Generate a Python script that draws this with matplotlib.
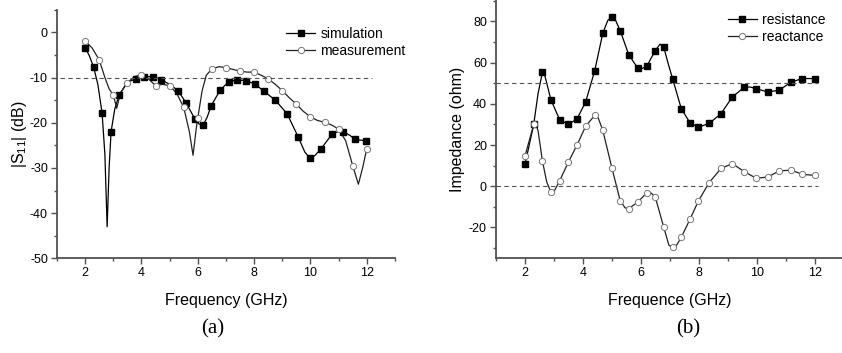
import numpy as np
import matplotlib
matplotlib.use('Agg')
import matplotlib.pyplot as plt
from matplotlib.ticker import MultipleLocator

plt.rcParams['font.family'] = ['Liberation Sans', 'DejaVu Sans']
plt.rcParams['axes.unicode_minus'] = False

# (a) |S11| -- markers
sim_f = [2.0, 2.3, 2.6, 2.92, 3.2, 3.8, 4.1, 4.4, 4.7, 5.3, 5.58, 5.9, 6.19, 6.47, 6.79,
         7.1, 7.4, 7.7, 8.02, 8.34, 8.75, 9.17, 9.56, 9.97, 10.38, 10.77, 11.17, 11.59, 11.98]
sim_db = [-3.4, -7.7, -17.8, -22.0, -13.9, -10.3, -9.8, -9.8, -10.5, -12.9, -15.6, -19.2, -20.5,
          -16.3, -12.8, -10.9, -10.5, -10.7, -11.4, -13.0, -15.0, -18.0, -23.1, -27.7, -25.7,
          -22.5, -22.0, -23.7, -24.0]
meas_f = [2.0, 2.5, 3.0, 3.5, 4.0, 4.5, 5.0, 5.5, 6.0, 6.5, 7.0, 7.5, 8.0, 8.5, 9.0, 9.5,
          10.0, 10.5, 11.0, 11.5, 12.0]
meas_db = [-1.9, -6.1, -13.9, -11.1, -9.4, -11.8, -11.8, -16.6, -18.9, -8.1, -7.8, -8.6, -8.8,
           -10.3, -12.9, -15.9, -18.7, -19.9, -21.4, -29.5, -25.7]

# (a) traced curves
sim_curve_f = [2.0, 2.15, 2.3, 2.45, 2.6, 2.7, 2.78, 2.85, 2.92, 3.05, 3.2, 3.5, 3.8, 4.1, 4.4,
               4.7, 5.0, 5.3, 5.58, 5.9, 6.05, 6.19, 6.33, 6.47, 6.79, 7.1, 7.4, 7.7, 8.02, 8.34,
               8.75, 9.17, 9.56, 9.8, 9.97, 10.15, 10.38, 10.77, 11.0, 11.17, 11.4, 11.59, 11.98]
sim_curve_db = [-3.4, -5.2, -7.7, -11.5, -17.8, -27.0, -43.0, -30.0, -22.0, -17.0, -13.9, -11.0,
                -10.3, -9.8, -9.8, -10.5, -11.5, -12.9, -15.6, -19.2, -20.3, -20.5, -18.8, -16.3,
                -12.8, -10.9, -10.5, -10.7, -11.4, -13.0, -15.0, -18.0, -23.1, -26.5, -27.7,
                -27.3, -25.7, -22.5, -21.9, -22.0, -22.8, -23.7, -24.0]
meas_curve_f = [2.0, 2.25, 2.5, 2.7, 2.85, 3.0, 3.12, 3.25, 3.5, 3.75, 4.0, 4.25, 4.5, 4.75,
                5.0, 5.25, 5.5, 5.7, 5.83, 5.95, 6.0, 6.15, 6.3, 6.5, 6.75, 7.0, 7.25, 7.5, 7.75,
                8.0, 8.25, 8.5, 8.75, 9.0, 9.25, 9.5, 9.75, 10.0, 10.25, 10.5, 10.75, 11.0,
                11.25, 11.5, 11.7, 11.85, 12.0]
meas_curve_db = [-1.9, -3.5, -6.1, -10.0, -12.5, -13.9, -16.8, -13.5, -11.1, -9.8, -9.4, -10.3,
                 -11.8, -11.5, -11.8, -13.5, -16.6, -22.0, -27.2, -21.0, -18.9, -13.0, -9.5,
                 -8.1, -7.6, -7.8, -8.2, -8.6, -8.8, -8.8, -9.5, -10.3, -11.5, -12.9, -14.5,
                 -15.9, -17.5, -18.7, -19.5, -19.9, -20.5, -21.4, -24.0, -29.5, -33.6, -30.0,
                 -25.7]

# (b) impedance -- markers (shared frequencies)
imp_f = [2.0, 2.3, 2.6, 2.89, 3.19, 3.49, 3.79, 4.09, 4.4, 4.68, 4.99, 5.28, 5.57, 5.88, 6.19,
         6.48, 6.78, 7.08, 7.38, 7.68, 7.97, 8.34, 8.75, 9.14, 9.55, 9.96, 10.35, 10.75, 11.15,
         11.55, 11.97]
resistance = [10.6, 30.0, 55.3, 42.1, 32.4, 30.0, 32.7, 41.0, 56.1, 74.4, 82.4, 75.5, 63.9,
              57.4, 58.2, 65.8, 67.4, 52.3, 37.7, 30.8, 28.7, 30.5, 35.3, 43.4, 48.1, 47.4,
              45.8, 46.6, 50.5, 52.3, 52.3]
reactance = [14.7, 30.0, 12.3, -2.7, 2.6, 11.6, 20.0, 29.2, 34.4, 27.1, 9.0, -7.1, -10.8, -7.7,
             -3.2, -5.0, -20.0, -29.7, -24.8, -16.0, -7.1, 1.8, 8.7, 11.0, 7.1, 3.9, 4.5, 7.4,
             7.9, 5.8, 5.3]

# (b) traced curves
res_curve_f = [2.0, 2.3, 2.45, 2.6, 2.65, 2.75, 2.89, 3.19, 3.49, 3.79, 4.09, 4.4, 4.68, 4.85,
               4.99, 5.12, 5.28, 5.57, 5.88, 6.03, 6.19, 6.48, 6.65, 6.78, 6.92, 7.08, 7.38,
               7.68, 7.97, 8.34, 8.75, 9.14, 9.55, 9.75, 9.96, 10.35, 10.75, 11.15, 11.55, 11.97]
res_curve = [10.6, 30.0, 45.0, 55.3, 55.5, 50.0, 42.1, 32.4, 30.0, 32.7, 41.0, 56.1, 74.4,
             80.5, 82.4, 80.5, 75.5, 63.9, 57.4, 57.2, 58.2, 65.8, 69.0, 67.4, 60.0, 52.3,
             37.7, 30.8, 28.7, 30.5, 35.3, 43.4, 48.1, 48.2, 47.4, 45.8, 46.6, 50.5, 52.3,
             52.3]
reac_curve_f = [2.0, 2.3, 2.36, 2.45, 2.6, 2.75, 2.89, 3.0, 3.19, 3.49, 3.79, 4.09, 4.4, 4.5,
                4.68, 4.99, 5.28, 5.45, 5.57, 5.88, 6.19, 6.3, 6.48, 6.78, 6.95, 7.08, 7.2,
                7.38, 7.68, 7.97, 8.34, 8.75, 9.14, 9.55, 9.96, 10.35, 10.75, 11.15, 11.55,
                11.97]
reac_curve = [14.7, 30.0, 31.0, 27.0, 12.3, 2.0, -2.7, -2.5, 2.6, 11.6, 20.0, 29.2, 34.4,
              34.0, 27.1, 9.0, -7.1, -10.5, -10.8, -7.7, -3.2, -2.8, -5.0, -20.0, -28.5,
              -29.7, -29.0, -24.8, -16.0, -7.1, 1.8, 8.7, 11.0, 7.1, 3.9, 4.5, 7.4, 7.9, 5.8,
              5.3]

fig = plt.figure(figsize=(8.42, 3.53), dpi=100)
ax1 = fig.add_axes([0.0677, 0.268, 0.4014, 0.7045])
ax2 = fig.add_axes([0.589, 0.268, 0.414, 0.7295])

spine_col = '#505050'
for ax in (ax1, ax2):
    ax.spines['top'].set_visible(False)
    ax.spines['right'].set_visible(False)
    for s in ('left', 'bottom'):
        ax.spines[s].set_color(spine_col)
        ax.spines[s].set_linewidth(1.3)
    ax.tick_params(which='major', direction='out', length=4, width=1, color=spine_col,
                   labelsize=9, pad=2.5)
    ax.tick_params(which='minor', direction='out', length=2, width=1, color=spine_col)
    ax.xaxis.set_major_locator(MultipleLocator(2))
    ax.xaxis.set_minor_locator(MultipleLocator(1))
    ax.set_xlim(1, 13)

leg_kw = dict(loc='upper left', frameon=False, fontsize=10, handlelength=2.1,
              handletextpad=0.35, labelspacing=0.2, borderaxespad=0, borderpad=0)

# panel (a)
ax1.plot(sim_curve_f, sim_curve_db, color='black', lw=0.9)
ax1.plot(meas_curve_f, meas_curve_db, color='#222222', lw=0.9)
ax1.plot(sim_f, sim_db, ls='none', marker='s', ms=3.8, mfc='black', mec='black')
ax1.plot(meas_f, meas_db, ls='none', marker='o', ms=4.5, mfc='white', mec='#777777', mew=0.7)
ax1.hlines(-10, 1.1, 12.2, colors='#555555', linestyles=(0, (4, 3)), lw=0.8)
ax1.set_ylim(-50, 5)
ax1.yaxis.set_major_locator(MultipleLocator(10))
ax1.yaxis.set_minor_locator(MultipleLocator(5))
ax1.set_xlabel('Frequency (GHz)', fontsize=11.5, labelpad=10)
ax1.set_ylabel(r'|S$_{\mathregular{11}}$| (dB)', fontsize=11.5, labelpad=1)
h1, = ax1.plot([], [], color='black', lw=0.9, marker='s', ms=3.8, mfc='black', mec='black')
h2, = ax1.plot([], [], color='#222222', lw=0.9, marker='o', ms=4.5, mfc='white',
               mec='#777777', mew=0.7)
ax1.legend([h1, h2], ['simulation', 'measurement'], bbox_to_anchor=(0.678, 0.93), **leg_kw)

# panel (b)
ax2.plot(res_curve_f, res_curve, color='black', lw=0.9)
ax2.plot(reac_curve_f, reac_curve, color='#222222', lw=0.9)
ax2.plot(imp_f, resistance, ls='none', marker='s', ms=3.8, mfc='black', mec='black')
ax2.plot(imp_f, reactance, ls='none', marker='o', ms=4.5, mfc='white', mec='#777777', mew=0.7)
ax2.hlines([50, 0], 1.0, 12.1, colors='#555555', linestyles=(0, (4, 3)), lw=0.8)
ax2.set_ylim(-35, 90)
ax2.yaxis.set_major_locator(MultipleLocator(20))
ax2.yaxis.set_minor_locator(MultipleLocator(10))
ax2.set_xlabel('Frequence (GHz)', fontsize=11.5, labelpad=10)
ax2.set_ylabel('Impedance (ohm)', fontsize=11.5, labelpad=3)
h3, = ax2.plot([], [], color='black', lw=0.9, marker='s', ms=3.8, mfc='black', mec='black')
h4, = ax2.plot([], [], color='#222222', lw=0.9, marker='o', ms=4.5, mfc='white',
               mec='#777777', mew=0.7)
ax2.legend([h3, h4], ['resistance', 'reactance'], bbox_to_anchor=(0.665, 0.952), **leg_kw)

fig.text(0.253, 0.068, '(a)', fontsize=15, family=['Liberation Serif'], ha='center', va='center')
fig.text(0.817, 0.068, '(b)', fontsize=15, family=['Liberation Serif'], ha='center', va='center')

fig.savefig('out.png', dpi=100)
